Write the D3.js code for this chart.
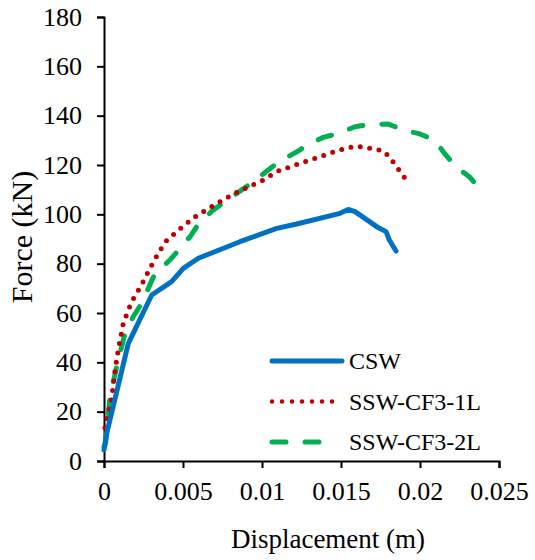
<!DOCTYPE html>
<html>
<head>
<meta charset="UTF-8">
<script src="https://cdn.jsdelivr.net/npm/d3@7"></script>
</head>
<body style="margin:0">
<svg id="chart" width="535" height="560" font-family="Liberation Serif" style="font-family: 'Liberation Serif'"></svg>
<script>
// data (displacement in m, force in kN)
const cswX = [0, 0.0002, 0.00154, 0.00302, 0.00428, 0.00502, 0.00597, 0.0086, 0.01093, 0.0122, 0.01494, 0.01546, 0.01589, 0.01726, 0.01785, 0.01806, 0.01848];
const cswY = [4.5, 12, 47.7, 67.3, 72.7, 78.1, 82.2, 88.9, 94.3, 96.1, 100.4, 102, 101.1, 95, 93, 89.6, 85.1];

const ssw1X = [0.00006, 0.0002, 0.00049, 0.0007, 0.0009, 0.00122, 0.00175, 0.00238, 0.00291, 0.00323, 0.00386, 0.00477, 0.00576, 0.00723, 0.0084, 0.01008, 0.011, 0.0124, 0.01356, 0.01473, 0.01595, 0.01715, 0.01774, 0.01816, 0.01852, 0.01926];
const ssw1Y = [13.5, 17.7, 25.4, 36.9, 45, 55.8, 64.6, 71.4, 78.1, 81.9, 88.7, 93.9, 99, 104.7, 108.9, 113.9, 117.5, 120.7, 123.1, 125.8, 127.7, 126.5, 125.4, 122.4, 119.3, 112.8];

const ssw2X = [0, 0.0001, 0.00038, 0.0008, 0.00133, 0.00185, 0.00238, 0.00323, 0.00418, 0.00544, 0.00608, 0.00692, 0.0084, 0.00945, 0.011, 0.0124, 0.01283, 0.01388, 0.01483, 0.01589, 0.01688, 0.018, 0.01894, 0.02, 0.02095, 0.02158, 0.02222, 0.02316, 0.0238];
const ssw2Y = [5.8, 7.3, 26, 38.2, 51.8, 58.5, 63.9, 76.1, 81.5, 90.9, 97, 101.8, 108.5, 113.2, 121, 126.1, 128.1, 131.2, 132.8, 135.5, 136.5, 136.6, 134.2, 132.6, 129.9, 124.5, 119.6, 115, 110.2];

const seriesNames = ["CSW", "SSW-CF3-1L", "SSW-CF3-2L"];
const xTicks = [0, 0.005, 0.01, 0.015, 0.02, 0.025];
const yTicks = [0, 20, 40, 60, 80, 100, 120, 140, 160, 180];

const margin = {top: 17, right: 36, bottom: 99, left: 104};
const width = 535 - margin.left - margin.right;
const height = 560 - margin.top - margin.bottom;

const svg = d3.select("#chart");
const g = svg.append("g").attr("transform", `translate(${margin.left},${margin.top})`);

const x = d3.scaleLinear().domain([0, 0.025]).range([0, width]);
const y = d3.scaleLinear().domain([0, 180]).range([height, 0]);

// axes
const xAxis = g.append("g")
    .attr("transform", `translate(0,${height})`)
    .call(d3.axisBottom(x).tickValues(xTicks).tickFormat(d => d === 0 ? "0" : String(+d.toFixed(3))).tickSize(7).tickPadding(14));
const yAxis = g.append("g")
    .call(d3.axisLeft(y).tickValues(yTicks).tickSize(7).tickPadding(15));

[xAxis, yAxis].forEach(ax => {
    ax.attr("font-family", "Liberation Serif").attr("font-size", 26);
    ax.select(".domain").attr("stroke", "#000").attr("stroke-width", 2);
    ax.selectAll(".tick line").attr("stroke", "#000").attr("stroke-width", 2);
    ax.selectAll(".tick text")
        .style("font-family", "Liberation Serif")
        .style("font-size", "26px")
        .attr("fill", "#000");
});

const styles = [
    {color: "#0070C0", dash: null},
    {color: "#C00000", dash: "0,9.5"},
    {color: "#00B050", dash: "14,19"}
];
const seriesData = [
    cswX.map((v, i) => [v, cswY[i]]),
    ssw1X.map((v, i) => [v, ssw1Y[i]]),
    ssw2X.map((v, i) => [v, ssw2Y[i]])
];

const line = d3.line().x(d => x(d[0])).y(d => y(d[1]));

// draw green, red, then blue on top
[2, 1, 0].forEach(k => {
    g.append("path")
        .datum(seriesData[k])
        .attr("fill", "none")
        .attr("stroke", styles[k].color)
        .attr("stroke-width", 5)
        .attr("stroke-linecap", "round")
        .attr("stroke-linejoin", "round")
        .attr("stroke-dasharray", styles[k].dash)
        .attr("d", line);
});

// legend
const legend = g.append("g").attr("transform", `translate(${272 - margin.left},${361 - margin.top})`);
seriesNames.forEach((name, i) => {
    const row = legend.append("g").attr("transform", `translate(0,${i * 40.5})`);
    row.append("line")
        .attr("x1", 0).attr("x2", i === 2 ? 63 : 70).attr("y1", 0).attr("y2", 0)
        .attr("stroke", styles[i].color)
        .attr("stroke-width", i === 1 ? 4.5 : 5)
        .attr("stroke-linecap", "round")
        .attr("stroke-dasharray", i === 1 ? "0,10" : styles[i].dash);
    row.append("text")
        .attr("x", 77).attr("y", 8)
        .style("font-family", "Liberation Serif")
        .style("font-size", "24px")
        .text(name);
});

// axis titles
svg.append("text")
    .attr("x", 328)
    .attr("y", 548)
    .attr("text-anchor", "middle")
    .style("font-family", "Liberation Serif")
    .style("font-size", "27px")
    .text("Displacement (m)");

svg.append("text")
    .attr("transform", "translate(32,237) rotate(-90)")
    .attr("text-anchor", "middle")
    .style("font-family", "Liberation Serif")
    .style("font-size", "30px")
    .text("Force (kN)");
</script>
</body>
</html>
